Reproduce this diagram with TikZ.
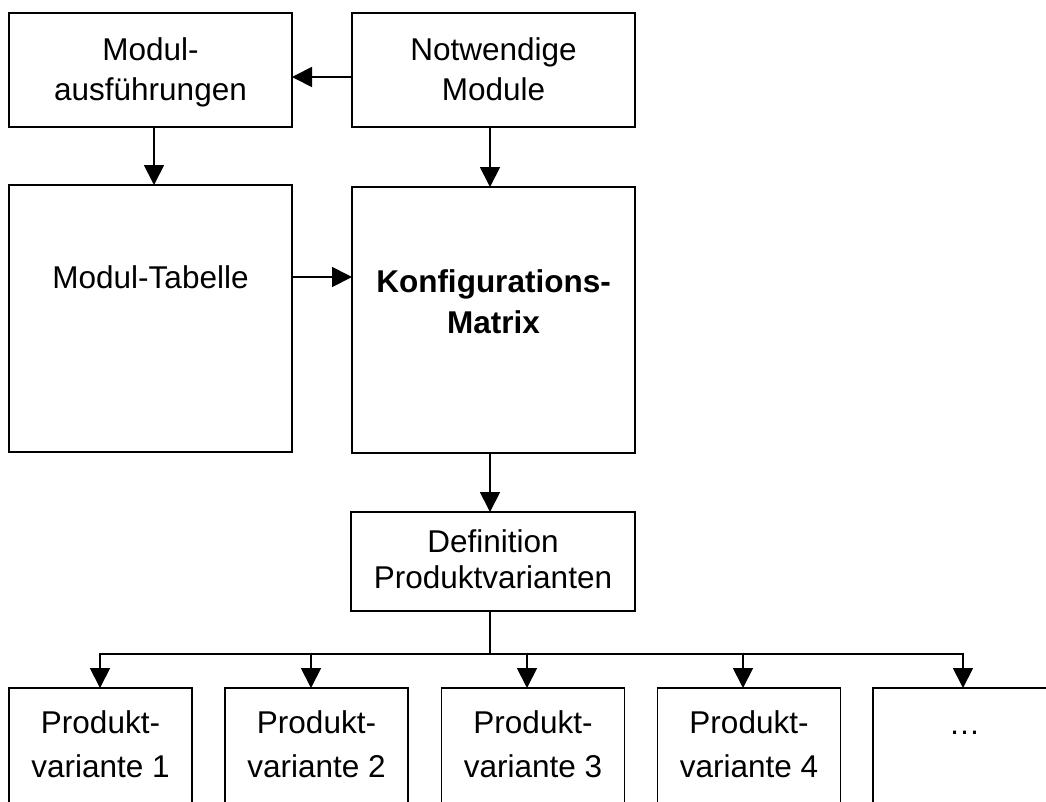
\documentclass[tikz,border=0pt]{standalone}
\usepackage{fontspec}
\setmainfont{Liberation Sans}
\usetikzlibrary{arrows.meta}
% centred lines whose first baseline sits at the node's base anchor
\newcommand{\stacklines}[1]{\begin{tabular}[t]{@{}c@{}}#1\end{tabular}}
\begin{document}
\begin{tikzpicture}[x=1pt,y=-1pt,
  box/.style={draw, line width=1.8pt, rectangle, inner sep=0pt, outer sep=0pt},
  label/.style={anchor=base, inner sep=0pt},
  arr/.style={line width=1.8pt, -{Triangle[length=20pt,width=20pt]}},
  conn/.style={line width=1.8pt}]
\useasboundingbox (0,0) rectangle (1046,801);
\clip (0,0) rectangle (1046,801);

% boxes
\node[box, minimum width=283pt, minimum height=114pt] (mausf) at (150.5,70) {};
\node[box, minimum width=283pt, minimum height=114pt] (notw)  at (493.5,70) {};
\node[box, minimum width=283pt, minimum height=267pt] (mtab)  at (150.5,318.5) {};
\node[box, minimum width=283pt, minimum height=266pt] (konf)  at (493.5,320) {};
\node[box, minimum width=284pt, minimum height=99pt]  (defp)  at (493,561.5) {};
\foreach \i/\cx in {1/100.5, 2/316.5, 3/533, 4/749, 5/964.5}
  \node[box, minimum width=183pt, minimum height=152pt] (pv\i) at (\cx,764) {};

% texts
\node[label, font=\fontsize{31.5}{40}\selectfont] (mausf-t) at (150.5,60) {\stacklines{Modul-\\ausführungen}};
\node[label, font=\fontsize{31.5}{40}\selectfont] (notw-t)  at (493.5,60) {\stacklines{Notwendige\\Module}};
\node[label, font=\fontsize{31.5}{40}\selectfont] (mtab-t)  at (150.5,288) {Modul-Tabelle};
\node[label, font=\fontsize{31.5}{41}\selectfont\bfseries] (konf-t) at (493.5,292) {\stacklines{Konfigurations-\\Matrix}};
\node[label, font=\fontsize{31.5}{36}\selectfont] (defp-t)  at (493,552) {\stacklines{Definition\\Produktvarianten}};
\foreach \i/\cx in {1/100.5, 2/316.5, 3/533, 4/749}
  \node[label, font=\fontsize{31.5}{44}\selectfont] (pv\i-t) at (\cx,733) {\stacklines{Produkt-\\variante \i}};
\node[label, font=\fontsize{31.5}{44}\selectfont] (pv5-t) at (964.5,734) {…};

% connectors
\draw[arr] ([yshift=-7pt]notw.west) -- ([yshift=-7pt]mausf.east);
\draw[arr] ([xshift=3.5pt]mausf.south) -- ([xshift=3.5pt]mtab.north);
\draw[arr] ([xshift=-3.5pt]notw.south) -- ([xshift=-3.5pt]konf.north);
\draw[arr] ([yshift=41.5pt]mtab.east) -- ([yshift=43pt]konf.west);
\draw[arr] ([xshift=-3.5pt]konf.south) -- ([xshift=-3pt]defp.north);

% distribution bus
\coordinate (bus) at (490,654);
\draw[conn] ([xshift=-3pt]defp.south) -- (bus);
\foreach \i/\dx in {1/-0.5, 2/-5.5, 3/-6, 4/-6, 5/-1.5}
  \draw[arr] (bus) -| ([xshift=\dx pt]pv\i.north);
\end{tikzpicture}
\end{document}
